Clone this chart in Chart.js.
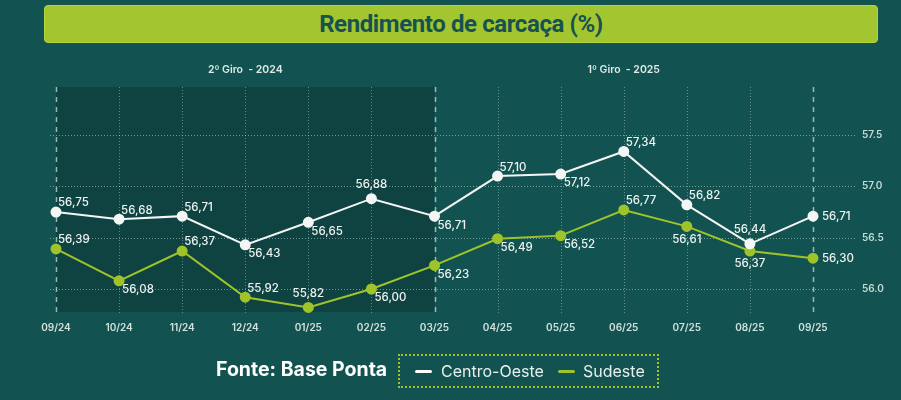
<!DOCTYPE html>
<html>
<head>
<meta charset="utf-8">
<script src="https://cdn.jsdelivr.net/npm/chart.js@4/dist/chart.umd.min.js"></script>
<style>
    body { margin: 0; background: #125351; font-family: "Inter", sans-serif; }
    #wrap { position: relative; width: 901px; height: 400px; overflow: hidden; }
    #chart { position: absolute; left: 0; top: 0; }
    #title-bar {
        position: absolute; left: 44px; top: 5px; width: 832px; height: 36px;
        background: #a3c630; border: 1px solid #b5d63a; border-radius: 4px;
        color: #17524f; font-family: "Roboto", sans-serif; font-weight: 700; font-size: 24px;
        line-height: 36px; text-align: center; letter-spacing: -0.4px;
    }
    #fonte {
        position: absolute; left: 216px; top: 357px; color: #ffffff;
        font-weight: 700; font-size: 19.5px; line-height: 24px;
    }
    #legend-box {
        position: absolute; left: 398px; top: 354px; width: 257px; height: 30px;
        border: 2px dotted #9fc42a; color: #e8eeec; font-size: 16px; line-height: 30px;
    }
    .item { position: absolute; top: 0; }
    .swatch { position: absolute; top: 14px; width: 17px; height: 3px; border-radius: 2px; }
</style>
</head>
<body>
<div id="wrap">
    <canvas id="chart" width="901" height="400"></canvas>
    <div id="title-bar">Rendimento de carcaça (%)</div>
    <div id="fonte">Fonte: Base Ponta</div>
    <div id="legend-box">
        <div class="swatch" style="left:15px;background:#ffffff"></div>
        <div class="item" style="left:41px">Centro-Oeste</div>
        <div class="swatch" style="left:158px;background:#9fc42a"></div>
        <div class="item" style="left:183px">Sudeste</div>
    </div>
</div>
<script>
// 月
var months = ["09/24", "10/24", "11/24", "12/24", "01/25", "02/25", "03/25",
              "04/25", "05/25", "06/25", "07/25", "08/25", "09/25"];

// 地域ごとの値
var centroOeste = [56.75, 56.68, 56.71, 56.43, 56.65, 56.88, 56.71, 57.10, 57.12, 57.34, 56.82, 56.44, 56.71];
var sudeste = [56.39, 56.08, 56.37, 55.92, 55.82, 56.00, 56.23, 56.49, 56.52, 56.77, 56.61, 56.37, 56.30];

// Y軸の目盛り
var yTicks = [56.0, 56.5, 57.0, 57.5];

// 期間（開始・終了のインデックス）
var periods = [
    { label: "2º Giro  - 2024", from: 0, to: 6 },
    { label: "1º Giro  - 2025", from: 6, to: 12 }
];

// ラベルの位置 (ar: 右上, br: 右下, a: 上, b: 下, r: 右)
var labelPosCO = ["ar", "ar", "ar", "br", "br", "a", "br", "ar", "br", "ar", "ar", "a", "r"];
var labelPosSE = ["ar", "br", "ar", "ar", "a", "br", "br", "br", "br", "ar", "b", "b", "r"];

var white = "#f4f6f5";
var lime = "#9fc42a";

function fmt(v) {
    return v.toFixed(2).replace(".", ",");
}

// 背景、グリッド、期間ラベル
var backgroundPlugin = {
    id: "background",
    beforeDatasetsDraw: function(chart) {
        var ctx = chart.ctx;
        var area = chart.chartArea;
        var x = chart.scales.x;
        var y = chart.scales.y;

        ctx.save();
        // 2024 の網掛け
        ctx.fillStyle = "#0f4341";
        var x0 = x.getPixelForValue(periods[0].from);
        var x1 = x.getPixelForValue(periods[0].to);
        ctx.fillRect(x0, area.top, x1 - x0, area.bottom - area.top);

        // 横線
        ctx.strokeStyle = "rgba(200, 220, 215, 0.55)";
        ctx.lineWidth = 1;
        ctx.setLineDash([1, 2]);
        yTicks.forEach(function(t) {
            var py = Math.round(y.getPixelForValue(t)) + 0.5;
            ctx.beginPath();
            ctx.moveTo(area.left - 6, py);
            ctx.lineTo(area.right + 42, py);
            ctx.stroke();
        });

        // 縦線
        for (var i = 0; i < months.length; i++) {
            var px = Math.round(x.getPixelForValue(i)) + 0.5;
            var major = (i == periods[0].from || i == periods[0].to || i == periods[1].to);
            ctx.beginPath();
            if (major) {
                ctx.strokeStyle = "rgba(200, 220, 215, 0.75)";
                ctx.lineWidth = 1.5;
                ctx.setLineDash([5, 5]);
            } else {
                ctx.strokeStyle = "rgba(200, 220, 215, 0.45)";
                ctx.lineWidth = 1;
                ctx.setLineDash([1, 2]);
            }
            ctx.moveTo(px, area.top);
            ctx.lineTo(px, area.bottom + 2);
            ctx.stroke();
        }

        // 期間ラベル
        ctx.setLineDash([]);
        ctx.fillStyle = "#dfe9e6";
        ctx.font = "600 10.5px Inter";
        ctx.textAlign = "center";
        ctx.textBaseline = "middle";
        periods.forEach(function(p) {
            var cx = (x.getPixelForValue(p.from) + x.getPixelForValue(p.to)) / 2;
            ctx.fillText(p.label, cx, 70);
        });
        ctx.restore();
    }
};

// 値ラベル
var valueLabelPlugin = {
    id: "valueLabels",
    afterDatasetsDraw: function(chart) {
        var ctx = chart.ctx;
        var posList = [labelPosCO, labelPosSE];
        ctx.save();
        ctx.font = "500 11.5px Inter";
        ctx.fillStyle = "#eef3f1";
        ctx.textBaseline = "middle";
        chart.data.datasets.forEach(function(ds, d) {
            chart.getDatasetMeta(d).data.forEach(function(pt, i) {
                var pos = posList[d][i];
                var text = fmt(ds.data[i]);
                var tx = pt.x, ty = pt.y;
                if (pos == "ar") { ctx.textAlign = "left"; tx += 2; ty -= 9; }
                else if (pos == "br") { ctx.textAlign = "left"; tx += 3; ty += 9; }
                else if (pos == "a") { ctx.textAlign = "center"; ty -= 14; }
                else if (pos == "b") { ctx.textAlign = "center"; ty += 13; }
                else { ctx.textAlign = "left"; tx += 9; }
                ctx.fillText(text, tx, ty);
            });
        });
        ctx.restore();
    }
};

function createData(label, data, color) {
    return {
        label: label,
        data: data,
        borderColor: color,
        borderWidth: 2,
        backgroundColor: color,
        pointBackgroundColor: color,
        pointBorderColor: color,
        pointRadius: 4.5,
        tension: 0,
        fill: false,
        clip: false
    };
}

new Chart(document.getElementById("chart"), {
    type: "line",
    data: {
        labels: months,
        datasets: [
            createData("Centro-Oeste", centroOeste, white),
            createData("Sudeste", sudeste, lime)
        ]
    },
    options: {
        responsive: false,
        animation: false,
        layout: { padding: { left: 56, top: 87, right: 0, bottom: 66 } },
        plugins: {
            legend: { display: false },
            tooltip: { enabled: false }
        },
        scales: {
            x: {
                type: "category",
                offset: false,
                grid: { display: false, drawTicks: false },
                border: { display: false },
                afterFit: function(axis) { axis.height = 22; },
                ticks: {
                    color: "#d3e2de",
                    font: { family: "Inter", size: 10, weight: "600" },
                    padding: 10,
                    maxRotation: 0,
                    autoSkip: false
                }
            },
            y: {
                position: "right",
                min: 55.776,
                max: 57.968,
                grid: { display: false, drawTicks: false },
                border: { display: false },
                afterFit: function(axis) { axis.width = 88; },
                afterBuildTicks: function(axis) {
                    axis.ticks = yTicks.map(function(v) { return { value: v }; });
                },
                ticks: {
                    color: "#c8dcd7",
                    font: { family: "Inter", size: 10, weight: "600" },
                    padding: 49,
                    callback: function(v) { return Number(v).toFixed(1); }
                }
            }
        }
    },
    plugins: [backgroundPlugin, valueLabelPlugin]
});
</script>
</body>
</html>
